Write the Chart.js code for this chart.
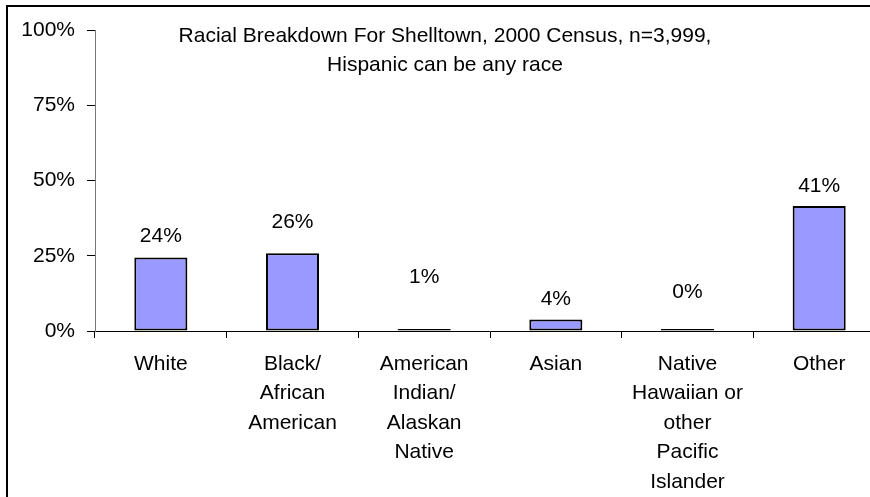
<!DOCTYPE html>
<html>
<head>
<meta charset="utf-8">
<script src="https://cdn.jsdelivr.net/npm/chart.js@4.4.0/dist/chart.umd.min.js"></script>
<style>
  html, body { margin: 0; padding: 0; background: #fff; overflow: hidden; }
  body { width: 870px; height: 497px; position: relative; }
  #frame { position: absolute; left: 6px; top: 5px; width: 2000px; height: 1000px;
           border-left: 2px solid #000; border-top: 2px solid #000; }
  #wrap { position: absolute; left: 0; top: 0; width: 900px; height: 497px; }
</style>
</head>
<body>
<div id="frame"></div>
<div id="wrap"><canvas id="chart"></canvas></div>
<script>
// waarden
const categories = [
    ['White'],
    ['Black/', 'African', 'American'],
    ['American', 'Indian/', 'Alaskan', 'Native'],
    ['Asian'],
    ['Native', 'Hawaiian or', 'other', 'Pacific', 'Islander'],
    ['Other']
];
const shares = [24.4, 25.8, 0.5, 3.8, 0.3, 41.5];
const shareLabels = ['24%', '26%', '1%', '4%', '0%', '41%'];
const yTicks = [0, 25, 50, 75, 100];
const titleLines = ['Racial Breakdown For Shelltown, 2000 Census, n=3,999,', 'Hispanic can be any race'];

const FONT = '"Liberation Sans", Arial, sans-serif';

// labels boven de staven, met eigen afstand zoals in het origineel
const barLabels = {
    id: 'barLabels',
    afterDatasetsDraw(chart, args, opts) {
        const ctx = chart.ctx;
        const meta = chart.getDatasetMeta(0);
        ctx.save();
        ctx.font = '21px ' + FONT;
        ctx.fillStyle = '#000';
        ctx.textAlign = 'center';
        ctx.textBaseline = 'middle';
        meta.data.forEach((bar, i) => {
            ctx.fillText(shareLabels[i], bar.x, bar.y - opts.offsets[i]);
        });
        ctx.restore();
    }
};

const chartTitle = {
    id: 'chartTitle',
    afterDraw(chart, args, opts) {
        const ctx = chart.ctx;
        ctx.save();
        ctx.font = '21px ' + FONT;
        ctx.fillStyle = '#000';
        ctx.textAlign = 'center';
        ctx.textBaseline = 'middle';
        titleLines.forEach((line, i) => {
            ctx.fillText(line, opts.x, opts.y + i * opts.lineHeight);
        });
        ctx.restore();
    }
};

new Chart(document.getElementById('chart'), {
    type: 'bar',
    data: {
        labels: categories,
        datasets: [{
            data: shares,
            backgroundColor: '#9999FF',
            borderColor: '#000',
            borderWidth: 2,
            borderSkipped: false,
            minBarLength: 2,
            barPercentage: 0.403,
            categoryPercentage: 1
        }]
    },
    plugins: [barLabels, chartTitle],
    options: {
        responsive: true,
        maintainAspectRatio: false,
        animation: false,
        devicePixelRatio: 1,
        layout: { padding: { top: 30, right: 15, left: 0, bottom: 0 } },
        plugins: {
            legend: { display: false },
            tooltip: { enabled: false },
            barLabels: { offsets: [21, 31, 52, 20, 37, 20] },
            chartTitle: { x: 445, y: 36, lineHeight: 29 }
        },
        scales: {
            x: {
                afterFit: (scale) => { scale.height = 166; },
                grid: { offset: true, drawOnChartArea: false, tickLength: 7, color: '#000' },
                border: { color: '#000', width: 1 },
                ticks: {
                    color: '#000',
                    padding: 11,
                    maxRotation: 0,
                    autoSkip: false,
                    font: { family: FONT, size: 21, lineHeight: 1.405 }
                }
            },
            y: {
                min: 0,
                max: 100,
                afterFit: (scale) => { scale.width = 95; },
                afterBuildTicks: (scale) => { scale.ticks = yTicks.map(v => ({ value: v })); },
                grid: { drawOnChartArea: false, tickLength: 8, color: '#000' },
                border: { color: '#777', width: 1 },
                ticks: {
                    color: '#000',
                    padding: 12,
                    callback: (val) => val + '%',
                    font: { family: FONT, size: 21 }
                }
            }
        }
    }
});
</script>
</body>
</html>
